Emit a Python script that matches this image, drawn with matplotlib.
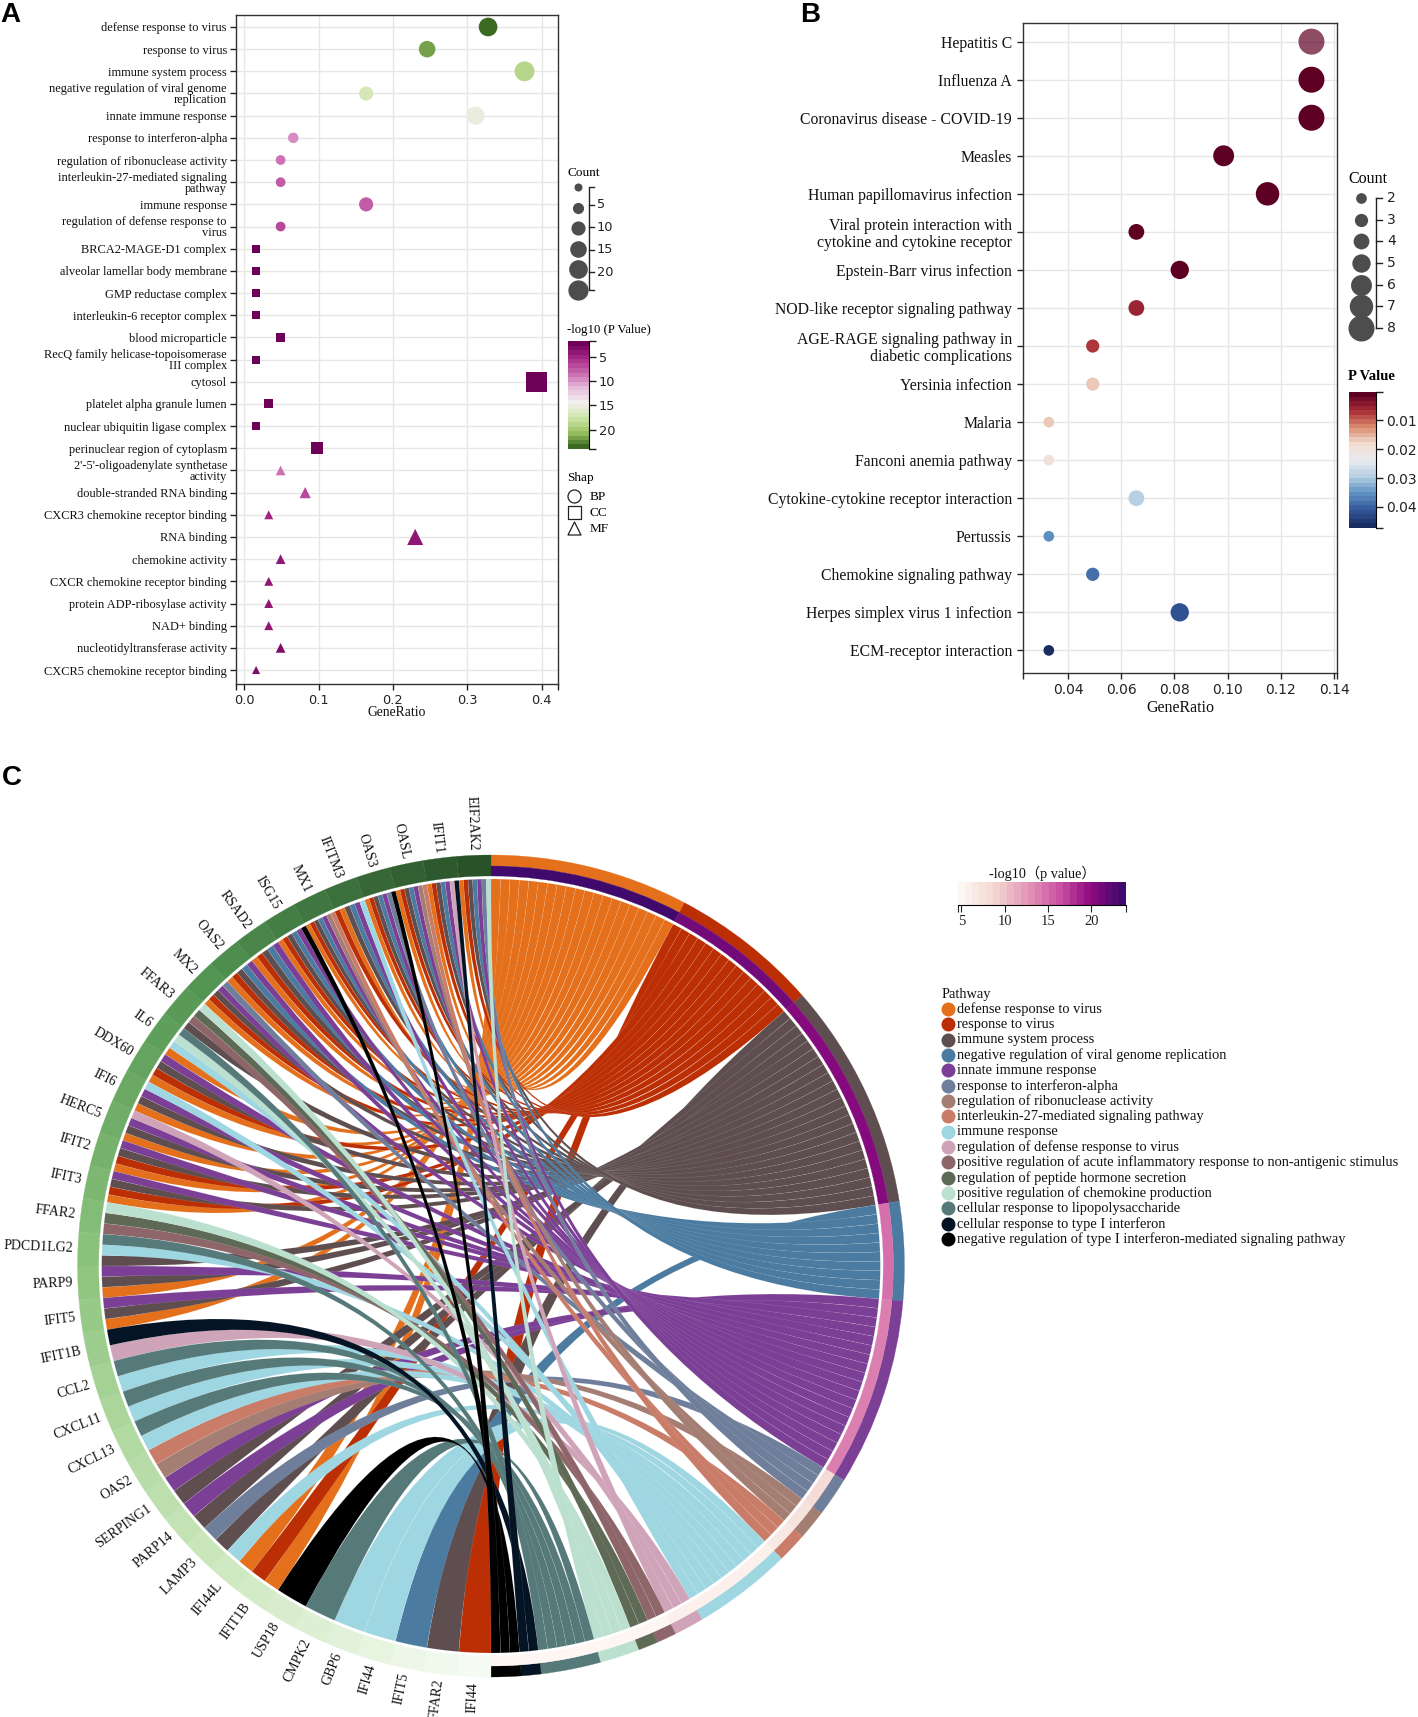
import numpy as np
import matplotlib
matplotlib.use('Agg')
import matplotlib.pyplot as plt
from matplotlib.colors import LinearSegmentedColormap, ListedColormap, Normalize
from matplotlib.patches import PathPatch, Wedge
from matplotlib.path import Path

W, H = 1418, 1717
SERIF = ['Liberation Serif', 'Noto Sans CJK SC']
plt.rcParams['font.family'] = 'DejaVu Sans'

# panel A
go_terms = ['defense response to virus', 'response to virus', 'immune system process',
            'negative regulation of viral genome\nreplication', 'innate immune response',
            'response to interferon-alpha', 'regulation of ribonuclease activity',
            'interleukin-27-mediated signaling\npathway', 'immune response',
            'regulation of defense response to\nvirus', 'BRCA2-MAGE-D1 complex',
            'alveolar lamellar body membrane', 'GMP reductase complex',
            'interleukin-6 receptor complex', 'blood microparticle',
            'RecQ family helicase-topoisomerase\nIII complex', 'cytosol',
            'platelet alpha granule lumen', 'nuclear ubiquitin ligase complex',
            'perinuclear region of cytoplasm', "2'-5'-oligoadenylate synthetase\nactivity",
            'double-stranded RNA binding', 'CXCR3 chemokine receptor binding', 'RNA binding',
            'chemokine activity', 'CXCR chemokine receptor binding',
            'protein ADP-ribosylase activity', 'NAD+ binding',
            'nucleotidyltransferase activity', 'CXCR5 chemokine receptor binding']
go_ratio = [.328, .246, .377, .164, .311, .066, .049, .049, .164, .049, .016, .016, .016, .016, .049,
            .016, .393, .033, .016, .098, .049, .082, .033, .23, .049, .033, .033, .033, .049, .016]
go_count = [20, 15, 23, 10, 19, 4, 3, 3, 10, 3, 1, 1, 1, 1, 3, 1, 24, 2, 1, 6, 3, 5, 2, 14, 3, 2, 2, 2, 3, 1]
go_logp = [23.5, 21.5, 19, 17, 15.2, 9.5, 8.5, 8, 7.5, 7, 2.5, 2.5, 2.5, 2.5, 2.5, 2.5, 2, 2.5, 2.5, 2,
           9, 7, 5, 4.5, 4.5, 4.5, 4, 4, 3.5, 3.5]
go_shape = ['o'] * 10 + ['s'] * 10 + ['^'] * 10

# panel B
kegg_terms = ['Hepatitis C', 'Influenza A', 'Coronavirus disease - COVID-19', 'Measles',
              'Human papillomavirus infection',
              'Viral protein interaction with\ncytokine and cytokine receptor',
              'Epstein-Barr virus infection', 'NOD-like receptor signaling pathway',
              'AGE-RAGE signaling pathway in\ndiabetic complications', 'Yersinia infection',
              'Malaria', 'Fanconi anemia pathway', 'Cytokine-cytokine receptor interaction',
              'Pertussis', 'Chemokine signaling pathway', 'Herpes simplex virus 1 infection',
              'ECM-receptor interaction']
kegg_ratio = [.1315, .1315, .1315, .0985, .115, .0657, .082, .0657, .0493, .0493,
              .0328, .0328, .0657, .0328, .0493, .082, .0328]
kegg_count = [8, 8, 8, 6, 7, 4, 5, 4, 3, 3, 2, 2, 4, 2, 3, 5, 2]
kegg_p = [.0005, .0005, .0005, .0007, .0008, .0008, .001, .0055, .0065, .0165,
          .016, .0205, .0285, .036, .0385, .0425, .0465]

# panel C
pathways = ['defense response to virus', 'response to virus', 'immune system process',
            'negative regulation of viral genome replication', 'innate immune response',
            'response to interferon-alpha', 'regulation of ribonuclease activity',
            'interleukin-27-mediated signaling pathway', 'immune response',
            'regulation of defense response to virus',
            'positive regulation of acute inflammatory response to non-antigenic stimulus',
            'regulation of peptide hormone secretion', 'positive regulation of chemokine production',
            'cellular response to lipopolysaccharide', 'cellular response to type I interferon',
            'negative regulation of type I interferon-mediated signaling pathway']
path_keys = ['D', 'R', 'S', 'V', 'I', 'A', 'N', 'L', 'M', 'F', 'P', 'H', 'C', 'T', 'Y', 'X']
path_colors = ['#e4701c', '#bc2f05', '#5e4e4f', '#4b7ba0', '#7c3f96', '#6f7f9b', '#a47d73', '#c97c68',
               '#9ed6e2', '#d0a4b8', '#8e6669', '#5e6a55', '#bbe0cf', '#56797a', '#041425', '#000000']
path_logp = [24, 21, 20.5, 14.5, 13.5, 8, 7.5, 7, 6, 5.5, 5, 5, 5, 5, 5, 5]

genes = ['IFI44', 'FFAR2', 'IFIT5', 'IFI44', 'GBP6', 'CMPK2', 'USP18', 'IFIT1B', 'IFI44L', 'LAMP3',
         'PARP14', 'SERPING1', 'OAS2', 'CXCL13', 'CXCL11', 'CCL2', 'IFIT1B', 'IFIT5', 'PARP9',
         'PDCD1LG2', 'FFAR2', 'IFIT3', 'IFIT2', 'HERC5', 'IFI6', 'DDX60', 'IL6', 'FFAR3', 'MX2',
         'OAS2', 'RSAD2', 'ISG15', 'MX1', 'IFITM3', 'OAS3', 'OASL', 'IFIT1', 'EIF2AK2']
gene_links = ['R', 'S', 'V', 'M', 'M', 'T', 'X', 'DR', 'DM', 'SA', 'SI', 'SI', 'NL', 'MT', 'MT', 'MT',
              'FY', 'DSI', 'DSI', 'SMT', 'PHC', 'DRSI', 'DRSI', 'DSIF', 'DSIM', 'DRSI', 'DMCT', 'SPHC',
              'DRSIA', 'DRSVI', 'DRSVI', 'DRSVIX', 'DRSVINL', 'RDSVIM', 'DRSVIAX', 'DRSVINL',
              'DRSVIFY', 'DRSVIAC']


def px_axes(fig, x0, y0, x1, y1):
    return fig.add_axes([x0 / W, 1 - y1 / H, (x1 - x0) / W, (y1 - y0) / H])


def dot_size(d):
    return (d * 0.72) ** 2


def style_axes(ax, labels, xticks, xfmt, ylab_size, ylab_pad, spacing, xlab_size, xlab_pad):
    ax.set_yticks(range(len(labels)))
    ax.set_yticklabels(labels, family=SERIF, fontsize=ylab_size, linespacing=spacing, color='#111111')
    ax.set_xticks(xticks)
    ax.set_xticklabels([xfmt % v for v in xticks], fontsize=9.3, color='#222222')
    ax.set_xticks(list(ax.get_xlim()), minor=True)
    ax.tick_params(axis='both', which='both', length=4.5, width=1, color='#222222')
    ax.tick_params(axis='x', pad=3)
    ax.tick_params(axis='y', pad=ylab_pad)
    ax.grid(True, color='#e6e6e6', lw=1)
    ax.set_axisbelow(True)
    for s in ax.spines.values():
        s.set_linewidth(1)
        s.set_color('#333333')
    ax.set_xlabel('GeneRatio', family=SERIF, fontsize=xlab_size, labelpad=xlab_pad, color='#111111')


def stepped_bar(fig, box, cmap, vmin, vmax, ticks, fmt, orientation='vertical'):
    cax = px_axes(fig, *box)
    vals = np.linspace(vmin, vmax, 257)
    grid = np.array([0.5 * (vals[:-1] + vals[1:])])
    if orientation == 'vertical':
        cax.pcolormesh([0, 1], vals, grid.T, cmap=cmap, vmin=vmin, vmax=vmax, rasterized=True)
        cax.set_ylim(vmax, vmin)
        cax.set_xticks([])
        cax.yaxis.tick_right()
        cax.set_yticks(ticks)
        cax.set_yticklabels([fmt % t for t in ticks], fontsize=9.3, color='#222222')
        cax.set_yticks([vmin, vmax], minor=True)
        cax.tick_params(axis='y', which='both', length=5, width=1, pad=2, color='#222222')
        for k, s in cax.spines.items():
            s.set_visible(k == 'right')
    else:
        cax.pcolormesh(vals, [0, 1], grid, cmap=cmap, vmin=vmin, vmax=vmax, rasterized=True)
        cax.set_xlim(vmin, vmax)
        cax.set_yticks([])
        cax.set_xticks(ticks)
        cax.set_xticklabels([fmt % t for t in ticks], family=SERIF, fontsize=10.5, color='#222222')
        cax.set_xticks([vmin, vmax], minor=True)
        cax.tick_params(axis='x', which='both', length=5, width=0.8, pad=2, color='#222222')
        for k, s in cax.spines.items():
            s.set_visible(k == 'bottom')
    return cax


fig = plt.figure(figsize=(W / 100, H / 100), dpi=100)
lay = fig.add_axes([0, 0, 1, 1], zorder=5)
lay.set_xlim(0, W)
lay.set_ylim(H, 0)
lay.axis('off')
lay.patch.set_alpha(0)

for txt, x, y in [('A', 10, 15), ('B', 810, 15), ('C', 12, 778)]:
    lay.text(x, y, txt, family='Liberation Sans', fontweight='bold', fontsize=20, ha='center', va='center', color='black')

# A: dot plot
cmap_a = LinearSegmentedColormap.from_list(
    'pg', ['#6e0058', '#a52886', '#c967ad', '#e6bbdb', '#f3f0ee', '#d0e6ae', '#9cc464', '#3c6a22'], 24)
norm_a = Normalize(1.8, 24)
ax = px_axes(fig, 236, 15, 558, 684)
ax.set_xlim(-0.011, 0.422)
ax.set_ylim(29.63, -0.54)
for m in ['o', 's', '^']:
    idx = [i for i, s in enumerate(go_shape) if s == m]
    ax.scatter([go_ratio[i] for i in idx], idx,
               s=[dot_size(np.sqrt(50 + 15 * go_count[i])) for i in idx], marker=m,
               c=[go_logp[i] for i in idx], cmap=cmap_a, norm=norm_a, linewidths=0, zorder=3)
style_axes(ax, go_terms, [0, .1, .2, .3, .4], '%.1f', 8.9, 2, 0.92, 9.8, -1)

lay.text(567, 173, 'Count', family=SERIF, fontsize=9.5, va='center')
ca_vals = [1, 5, 10, 15, 20, 24]
ca_y = np.linspace(187, 290, 6)
for v, y in zip(ca_vals, ca_y):
    lay.scatter(578, y, s=dot_size(np.sqrt(50 + 15 * v)), color='#4d4d4d', linewidths=0)
lay.plot([594, 589, 589, 594], [187, 187, 290, 290], color='#222222', lw=1)
for v in [5, 10, 15, 20]:
    y = 187 + (v - 1) * 4.48
    lay.plot([589, 594], [y, y], color='#222222', lw=1)
    lay.text(597, y, str(v), fontsize=9.3, va='center', color='#222222')

lay.text(567, 330, '-log10 (P Value)', family=SERIF, fontsize=9.2, va='center')
stepped_bar(fig, (568, 341, 589, 449), cmap_a, 1.8, 24, [5, 10, 15, 20], '%d')

lay.text(567, 478, 'Shap', family=SERIF, fontsize=9.5, va='center')
for m, name, y in [('o', 'BP', 496), ('s', 'CC', 512), ('^', 'MF', 528)]:
    lay.scatter(574, y, s=dot_size(13), marker=m, facecolors='white', edgecolors='#222222', linewidths=0.9)
    lay.text(590, y + 1, name, family=SERIF, fontsize=9.5, va='center')

# B: dot plot
cmap_b = LinearSegmentedColormap.from_list(
    'rb', ['#5e0024', '#a82c35', '#d98a6e', '#f2dccf', '#e9eaee', '#b5cfe4', '#5f93c4', '#35599c', '#1a2d63'], 30)
norm_b = Normalize(0.0002, 0.0473)
ax = px_axes(fig, 1023, 23, 1337, 673)
ax.set_xlim(0.0231, 0.1411)
ax.set_ylim(16.594, -0.49)
kegg_d = [10.7 + 2.55 * (c - 2) for c in kegg_count]
ax.scatter(kegg_ratio, range(len(kegg_ratio)), s=[dot_size(d) for d in kegg_d], c=kegg_p, cmap=cmap_b,
           norm=norm_b, linewidths=0, zorder=3, alpha=[0.7] + [1] * 16)
style_axes(ax, kegg_terms, [.04, .06, .08, .10, .12, .14], '%.2f', 11.3, 3.5, 1.08, 11.5, 2)
ax.tick_params(axis='x', labelsize=10)

lay.text(1348, 179, 'Count', family=SERIF, fontsize=11.5, va='center')
cb_y = np.linspace(198, 328, 7)
for v, y in zip(range(2, 9), cb_y):
    lay.scatter(1361, y, s=dot_size(10.7 + 2.55 * (v - 2)), color='#4d4d4d', linewidths=0)
    lay.plot([1376, 1382], [y, y], color='#222222', lw=1)
    lay.text(1387, y, str(v), fontsize=10, va='center', color='#222222')
lay.plot([1376, 1376], [198, 328], color='#222222', lw=1)

lay.text(1348, 377, 'P Value', family=SERIF, fontsize=10.5, va='center', fontweight='bold')
cb = stepped_bar(fig, (1349, 392, 1376, 528), cmap_b, 0.0002, 0.0473, [.01, .02, .03, .04], '%.2f')
cb.tick_params(axis='y', labelsize=10)

# C: chord diagram, clock angles, 0 at the top and clockwise
R_OUT, R_MID, R_RING, R_LINK = 411.0, 400.0, 390.0, 387.0
cx = px_axes(fig, 491 - 420, 1266 - 420, 491 + 420, 1266 + 420)
cx.set_xlim(-417.5, 417.5)
cx.set_ylim(-420, 420)
cx.axis('off')


def clock_xy(theta, r):
    t = np.radians(theta)
    return r * np.sin(t), r * np.cos(t)


def ring(a0, a1, r0, r1, color):
    cx.add_patch(Wedge((0, 0), r1, 90 - a1, 90 - a0, width=r1 - r0, facecolor=color, edgecolor=color, lw=0.2))


def ribbon(a0, a1, b0, b1, color):
    aa = np.linspace(a0, a1, 6)
    bb = np.linspace(b0, b1, 6)
    # control point sits a little past the centre, which pulls the necks deeper
    p0, q0 = np.array(clock_xy(a1, R_LINK)), np.array(clock_xy(b0, R_LINK))
    p1, q1 = np.array(clock_xy(a0, R_LINK)), np.array(clock_xy(b1, R_LINK))
    c0, c1 = -0.015 * (p0 + q0), -0.015 * (p1 + q1)
    verts = [clock_xy(a, R_LINK) for a in aa]
    codes = [Path.MOVETO] + [Path.LINETO] * 5
    verts += [tuple(c0), tuple(q0)]
    codes += [Path.CURVE3, Path.CURVE3]
    verts += [clock_xy(b, R_LINK) for b in bb[1:]]
    codes += [Path.LINETO] * 5
    verts += [tuple(c1), tuple(p1)]
    codes += [Path.CURVE3, Path.CURVE3]
    cx.add_patch(PathPatch(Path(verts, codes), facecolor=color, edgecolor=(1, 1, 1, 0.3), lw=0.2))


gene_step = 180.0 / len(genes)
links = {k: [] for k in path_keys}
for g, keys in enumerate(gene_links):
    bw = gene_step / len(keys)
    for j, k in enumerate(keys):
        links[k].append((180 + g * gene_step + j * bw, 180 + g * gene_step + (j + 1) * bw))

unit = 180.0 / sum(len(k) for k in gene_links)
cmap_c = ListedColormap(LinearSegmentedColormap.from_list(
    'pv', ['#fdf6f2', '#f4d8d2', '#e49ab8', '#cb55a4', '#8f0a80', '#3f0a6b'])(np.linspace(0, 1, 24)))
norm_c = Normalize(4.6, 24)

a = 0.0
for k, col, lp in zip(path_keys, path_colors, path_logp):
    n = len(links[k])
    ring(a, a + n * unit, R_MID, R_OUT, col)
    ring(a, a + n * unit, R_RING, R_MID, cmap_c(norm_c(lp)))
    for i, (b0, b1) in enumerate(links[k]):
        ribbon(a + i * unit, a + (i + 1) * unit, b0, b1, col)
    a += n * unit

cmap_g = LinearSegmentedColormap.from_list('gr', ['#f5fbf2', '#c9e6ba', '#8dc47d', '#539653', '#2a5229'])
for g, name in enumerate(genes):
    t0 = 180 + g * gene_step
    ring(t0, t0 + gene_step, R_RING, R_OUT, cmap_g(g / (len(genes) - 1)))
    mid = t0 + gene_step / 2
    lx, ly = clock_xy(mid, R_OUT + 5)
    rot = np.degrees(np.arctan2(-np.cos(np.radians(mid)), -np.sin(np.radians(mid))))
    cx.text(lx, ly, name, family=SERIF, fontsize=10, rotation=rot, rotation_mode='anchor',
            ha='right', va='center', color='#111111')

lay.text(1042, 873, '-log10（p value）', family=SERIF, fontsize=10.3, ha='center', va='center', color='#111111')
stepped_bar(fig, (958, 882, 1126, 905), cmap_c, 4.6, 24, [5, 10, 15, 20], '%d', 'horizontal')

lay.text(942, 994, 'Pathway', family=SERIF, fontsize=10.4, va='center', color='#111111')
for i, (name, col) in enumerate(zip(pathways, path_colors)):
    y = 1009 + i * 15.33
    lay.scatter(948, y, s=dot_size(14), color=col, linewidths=0)
    lay.text(957, y, name, family=SERIF, fontsize=10.4, va='center', color='#111111')

fig.savefig('out.png', dpi=100, facecolor='white')
